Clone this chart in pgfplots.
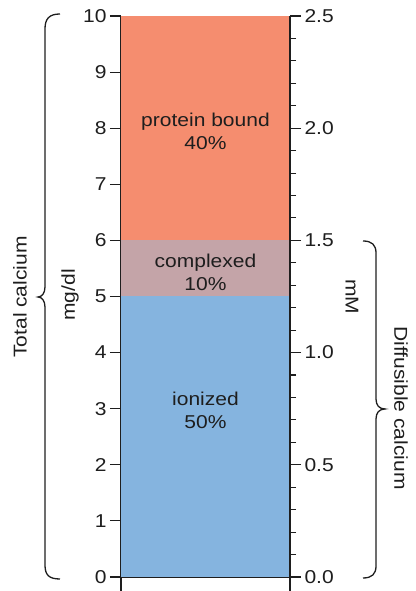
\documentclass[border=0pt]{standalone}
\usepackage{fontspec}
\setmainfont[FakeStretch=1.13]{Liberation Sans}
\usepackage{pgfplots}
\pgfplotsset{compat=1.18}

\definecolor{protein}{RGB}{245,141,111}
\definecolor{complexed}{RGB}{196,164,168}
\definecolor{ionized}{RGB}{133,180,223}
\definecolor{ink}{RGB}{30,30,30}

\newcommand{\lbl}{\fontsize{18.6}{23}\selectfont}

\pgfplotsset{
  calc/.style={
    scale only axis, width=169pt, height=575pt,
    at={(0pt,0pt)}, anchor=south west,
    xmin=0, xmax=1,
    axis x line=none,
    tick align=outside,
    major tick length=11pt, minor tick length=6pt,
    axis line style={line width=1.6pt, color=ink},
    every tick/.style={line width=1.1pt, color=ink},
    tick label style={font=\lbl, color=ink},
    /pgf/number format/assume math mode=true,
  },
}

\begin{document}
\begin{tikzpicture}
\useasboundingbox (-121pt,0pt) rectangle (294pt,591pt);

% mg/dl axis with the stacked bar
\begin{axis}[calc,
    ymin=-0.25, ymax=10,
    axis y line*=left,
    ytick={0,1,...,10},
    ybar stacked, bar width=1,
  ]
  \addplot[fill=ionized, draw=none] coordinates {(0.5,5)};
  \addplot[fill=complexed, draw=none] coordinates {(0.5,1)};
  \addplot[fill=protein, draw=none] coordinates {(0.5,4)};
  \draw[line width=1.6pt, color=ink] (axis cs:0,0) -- (axis cs:1,0);
\end{axis}

% mM axis
\begin{axis}[calc,
    ymin=-0.0625, ymax=2.5,
    axis y line*=right,
    ytick={0,0.5,...,2.5},
    minor y tick num=4,
    yticklabel style={/pgf/number format/.cd, fixed, fixed zerofill, precision=1},
  ]
\end{axis}

% labels inside the bar
\node[align=center, font=\lbl, text=ink] at (84.5pt,460pt) {protein bound\\40\%};
\node[align=center, font=\lbl, text=ink] at (84.5pt,319pt) {complexed\\10\%};
\node[align=center, font=\lbl, text=ink] at (84.5pt,181pt) {ionized\\50\%};

% braces
\draw[line width=1.3pt, color=ink]
  (-61pt,577pt) .. controls (-72pt,577pt) and (-76pt,572pt) .. (-76pt,562pt)
  -- (-76pt,304pt) .. controls (-76pt,298pt) and (-79pt,294pt) .. (-83pt,294pt)
  .. controls (-79pt,294pt) and (-76pt,290pt) .. (-76pt,284pt)
  -- (-76pt,26pt) .. controls (-76pt,16pt) and (-72pt,12pt) .. (-61pt,12pt);
\draw[line width=1.3pt, color=ink]
  (242pt,350pt) .. controls (251pt,350pt) and (255pt,346pt) .. (255pt,338pt)
  -- (255pt,192pt) .. controls (255pt,186pt) and (258pt,182pt) .. (264pt,182pt)
  .. controls (258pt,182pt) and (255pt,178pt) .. (255pt,172pt)
  -- (255pt,25pt) .. controls (255pt,17pt) and (251pt,13pt) .. (242pt,13pt);

% axis titles
\node[rotate=90, font=\lbl, text=ink] at (-101pt,294pt) {Total calcium};
\node[rotate=90, font=\lbl, text=ink] at (-51pt,296pt) {mg/dl};
\node[rotate=-90, font=\lbl, text=ink] at (231pt,294pt) {mM};
\node[rotate=-90, font=\lbl, text=ink] at (280pt,183pt) {Diffusible calcium};
\end{tikzpicture}
\end{document}
